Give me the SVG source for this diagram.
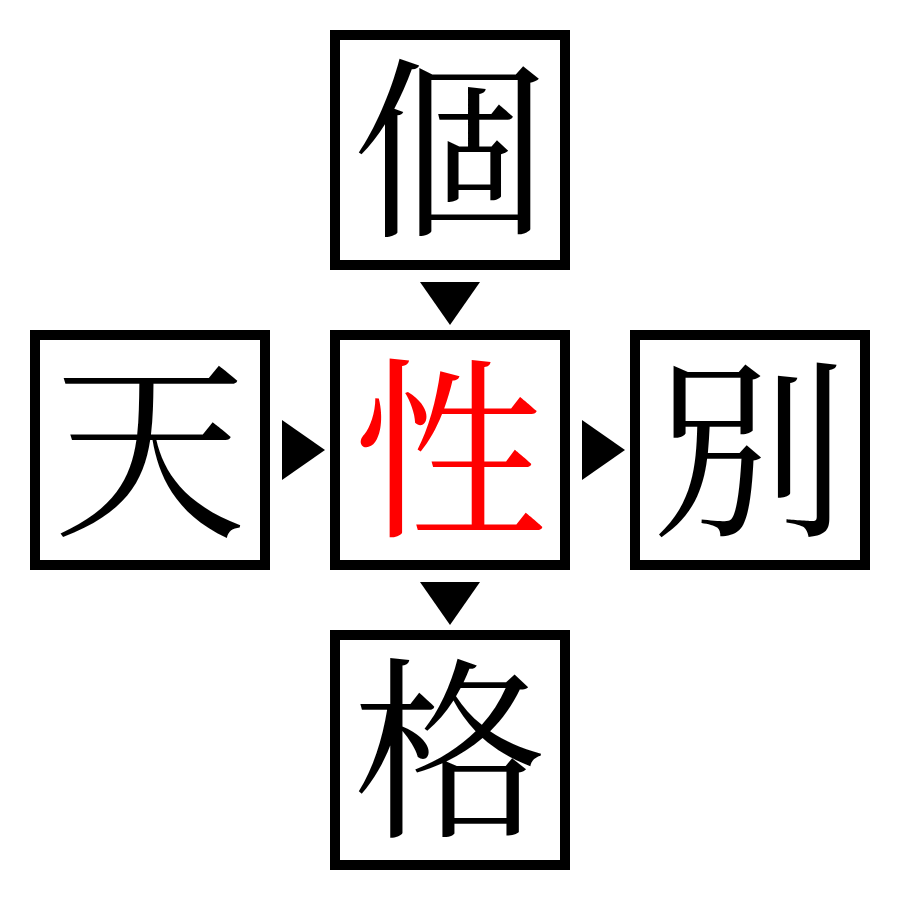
<svg xmlns="http://www.w3.org/2000/svg" width="900" height="900" viewBox="0 0 900 900">
<style>
.box{fill:#fff;stroke:#000;stroke-width:10}
.ch{font-family:'Noto Serif CJK JP','Noto Sans CJK JP',serif;font-size:194px;text-anchor:middle;dominant-baseline:central;fill:#000}
.hl{fill:#ff0000}
.arr{fill:#000}
</style>
<rect width="900" height="900" fill="#fff"/>
<g id="node-top"><rect class="box" x="335" y="35" width="230" height="230"/><text class="ch" x="450" y="138">個</text></g>
<g id="node-left"><rect class="box" x="35" y="335" width="230" height="230"/><text class="ch" x="150" y="438">天</text></g>
<g id="node-center"><rect class="box" x="335" y="335" width="230" height="230"/><text class="ch hl" x="450" y="438">性</text></g>
<g id="node-right"><rect class="box" x="635" y="335" width="230" height="230"/><text class="ch" x="750" y="438">別</text></g>
<g id="node-bottom"><rect class="box" x="335" y="635" width="230" height="230"/><text class="ch" x="450" y="738">格</text></g>
<g id="connectors">
<polygon class="arr" points="420,282 480,282 450,325"/>
<polygon class="arr" points="282,420 282,480 325,450"/>
<polygon class="arr" points="582,420 582,480 625,450"/>
<polygon class="arr" points="420,582 480,582 450,625"/>
</g>
</svg>
